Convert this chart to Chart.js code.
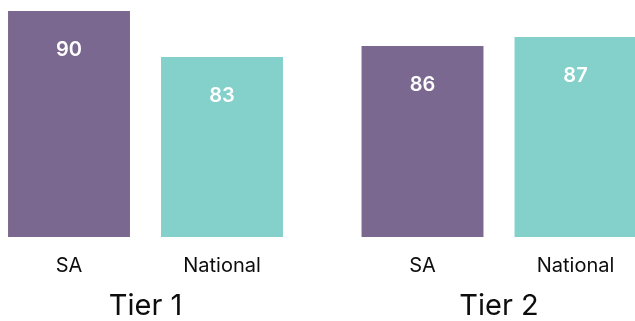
<!DOCTYPE html>
<html>
<head>
<meta charset="utf-8">
<script src="https://cdn.jsdelivr.net/npm/chart.js@4/dist/chart.umd.min.js"></script>
<style>
  html, body { margin: 0; padding: 0; background: #fff; }
  #wrap { width: 635px; height: 321px; position: relative; }
</style>
</head>
<body>
<div id="wrap"><canvas id="tiers"></canvas></div>
<script>
// tiers along the x axis, one bar per series in each tier
const tiers = ['Tier 1', 'Tier 2'];
const seriesNames = ['SA', 'National'];
const saValues = [90, 86];
const nationalValues = [83, 87];

const FONT = 'Inter, "Noto Sans", sans-serif';

// writes each bar's value inside it and the series name underneath
const barLabels = {
  id: 'barLabels',
  afterDatasetsDraw(chart) {
    const { ctx, chartArea } = chart;
    ctx.save();
    ctx.textAlign = 'center';
    ctx.textBaseline = 'middle';
    chart.data.datasets.forEach((ds, di) => {
      chart.getDatasetMeta(di).data.forEach((bar, i) => {
        ctx.fillStyle = '#ffffff';
        ctx.font = '600 20px ' + FONT;
        ctx.fillText(ds.data[i], bar.x, bar.y + 39);
        ctx.fillStyle = '#0d0d0d';
        ctx.font = '20px ' + FONT;
        ctx.fillText(ds.label, bar.x, chartArea.bottom + 29);
      });
    });
    ctx.restore();
  }
};

new Chart(document.getElementById('tiers'), {
  type: 'bar',
  data: {
    labels: tiers,
    datasets: [
      { label: seriesNames[0], data: saValues, backgroundColor: '#7b6890', yAxisID: 'ySA' },
      { label: seriesNames[1], data: nationalValues, backgroundColor: '#84d0cb', yAxisID: 'yNat' }
    ]
  },
  options: {
    responsive: true,
    maintainAspectRatio: false,
    animation: false,
    layout: { padding: { left: 145.5, right: 136, top: 0, bottom: 0 } },
    datasets: {
      bar: {
        categoryPercentage: 0.8656,
        barPercentage: 0.797,
        // bars spill sideways past the tick positions, but stop at the axis
        clip: { left: 150, right: 150, top: 0, bottom: 0 }
      }
    },
    plugins: { legend: { display: false }, tooltip: { enabled: false } },
    scales: {
      x: {
        offset: false,
        grid: { display: false, drawTicks: false },
        border: { display: false },
        ticks: { color: '#0d0d0d', padding: 55, font: { family: FONT, size: 29, lineHeight: 1 } },
        afterFit(scale) { scale.height = 84; }
      },
      ySA: { display: false, min: 64.171, max: 91.257 },
      yNat: { display: false, min: 47, max: 94.4 }
    }
  },
  plugins: [barLabels]
});
</script>
</body>
</html>
